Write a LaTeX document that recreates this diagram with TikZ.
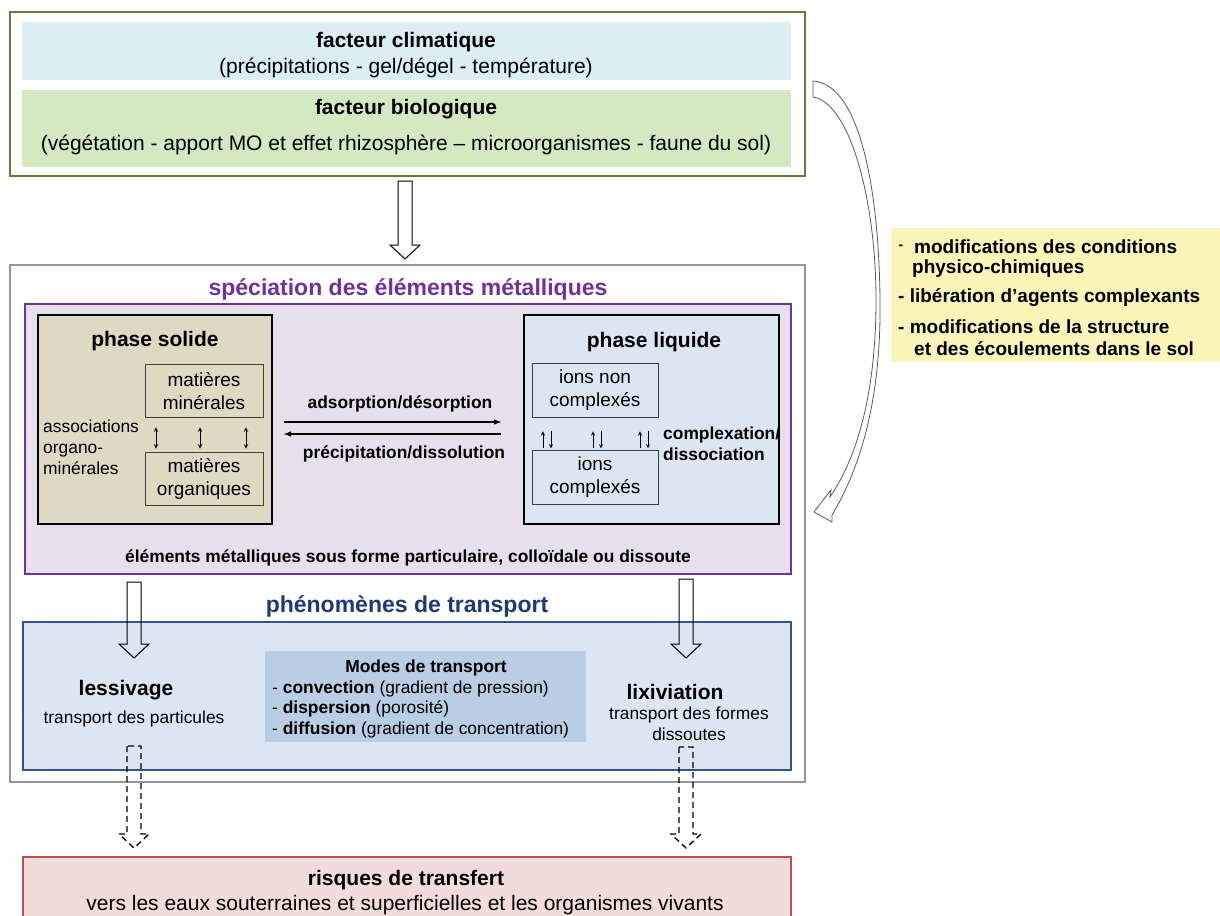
\documentclass[tikz,border=0pt]{standalone}
\usepackage{fontspec}
\setmainfont{Liberation Sans}
\usetikzlibrary{calc,arrows,positioning}
\definecolor{topgreen}{RGB}{98,126,58}
\definecolor{climblue}{RGB}{219,238,243}
\definecolor{biogreen}{RGB}{210,233,193}
\definecolor{boxgray}{RGB}{150,150,150}
\definecolor{specpurple}{RGB}{112,48,160}
\definecolor{specfill}{RGB}{229,224,236}
\definecolor{solidfill}{RGB}{221,217,195}
\definecolor{liqfill}{RGB}{220,230,242}
\definecolor{transblue}{RGB}{31,56,120}
\definecolor{transborder}{RGB}{46,84,138}
\definecolor{modesfill}{RGB}{185,205,229}
\definecolor{riskfill}{RGB}{242,220,219}
\definecolor{riskred}{RGB}{185,80,75}
\definecolor{yellowfill}{RGB}{250,246,185}
\definecolor{curvegray}{RGB}{90,90,90}
\newcommand{\fatarrow}[3][]{%
  \draw[#1] ($(#2)+(-7,0)$) -- ($(#3)+(-7,-14)$) -- ($(#3)+(-15,-14)$) -- (#3)
    -- ($(#3)+(15,-14)$) -- ($(#3)+(7,-14)$) -- ($(#2)+(7,0)$) -- cycle;}

\begin{document}
\begin{tikzpicture}[x=1pt,y=-1pt,
  txtL/.style={font=\fontsize{21}{25}\selectfont, inner sep=0pt, yshift=-2.5pt},
  txtLb/.style={font=\fontsize{21}{25}\selectfont\bfseries, inner sep=0pt, yshift=-2.5pt},
  txtXb/.style={font=\fontsize{23}{27}\selectfont\bfseries, inner sep=0pt, yshift=-2pt},
  txtMb/.style={font=\fontsize{19}{23}\selectfont\bfseries, inner sep=0pt, yshift=-1.5pt},
  txtS/.style={font=\fontsize{17.4}{21}\selectfont, inner sep=0pt, yshift=-1.5pt},
  txtSb/.style={font=\fontsize{17.4}{21}\selectfont\bfseries, inner sep=0pt, yshift=-2pt},
  inbox/.style={draw=black!75, line width=0.8pt, font=\fontsize{19}{23}\selectfont, align=center},
  phasebox/.style={draw=black, line width=1.5pt, inner sep=0pt},
  fatarr/.style={draw=black, line width=1pt},
  dasharr/.style={draw=black, line width=1.3pt, dash pattern=on 6pt off 4pt}]
\useasboundingbox (0,0) rectangle (1220,915);

\draw[draw=topgreen, line width=1.6pt] (10,12) rectangle (805,176);
\fill[climblue] (22,22) rectangle (791,80);
\fill[biogreen] (22,90) rectangle (791,167);
\node[txtLb] (clim) at (406,40) {facteur climatique};
\node[txtL] (climsub) at (406,65) {(précipitations - gel/dégel - température)};
\node[txtLb] (bio) at (406,107) {facteur biologique};
\node[txtL] (biosub) at (406,142) {(végétation - apport MO et effet rhizosphère – microorganismes - faune du sol)};

\coordinate (ar1s) at (405,181);
\coordinate (ar1e) at (405,259);
\fatarrow[fatarr]{ar1s}{ar1e}

\draw[draw=curvegray, fill=white, line width=0.8pt] (813,97)
  .. controls (850,103) and (876,200) .. (876,300)
  .. controls (876,380) and (862,450) .. (830,497) -- (831,490) -- (814,512)
  -- (832,522) -- (832,515)
  .. controls (868,455) and (881,380) .. (880,300)
  .. controls (879,190) and (860,84) .. (813,81) -- cycle;

\fill[yellowfill] (891,228) rectangle (1222,362);
\node[font=\fontsize{14}{16}\selectfont\bfseries] (y0) at (901,247) {-};
\node[txtMb, anchor=west] (y1) at (914,245) {modifications des conditions};
\node[txtMb, anchor=west] (y2) at (912,267) {physico-chimiques};
\node[txtMb, anchor=west] (y3) at (898,296) {- libération d’agents complexants};
\node[txtMb, anchor=west] (y4) at (898,325) {- modifications de la structure};
\node[txtMb, anchor=west] (y5) at (914,347) {et des écoulements dans le sol};

\draw[draw=boxgray, line width=1.6pt] (10,265) rectangle (805,782);
\node[txtXb, text=specpurple] (spec) at (408,287) {spéciation des éléments métalliques};
\draw[draw=specpurple, fill=specfill, line width=2.2pt] (25,304) rectangle (791,574);

\node[phasebox, fill=solidfill, minimum width=234pt, minimum height=209pt] (solidbox) at (155,419.5) {};
\node[txtLb] (solid) at (155,339) {phase solide};
\node[inbox, minimum width=118pt, minimum height=53pt] (miner) at (204,391) {matières\\minérales};
\node[inbox, minimum width=118pt, minimum height=53pt] (organ) at (204,479) {matières\\organiques};
\node[txtS, align=left, anchor=west] (assoc) at (43,446) {associations\\organo-\\minérales};
\foreach \dx in {-48,-4,42}
  \draw[<->, >=stealth, line width=1pt] ($(miner.south)+(\dx,9.5)$) -- ($(organ.north)+(\dx,-3.5)$);

\node[phasebox, fill=liqfill, minimum width=255pt, minimum height=209pt] (liqbox) at (651.5,419.5) {};
\node[txtLb] (liq) at (654,340) {phase liquide};
\node[inbox, minimum width=126pt, minimum height=54pt] (ionsnc) at (595,390) {ions non\\complexés};
\node[inbox, minimum width=126pt, minimum height=54pt] (ionsc) at (595,477.5) {ions\\complexés};
\foreach \dx in {-48,2,49} {
  \draw[->, >=stealth, line width=0.9pt] ($(ionsnc.south)+(\dx-4,31)$) -- ($(ionsnc.south)+(\dx-4,14)$);
  \draw[->, >=stealth, line width=0.9pt] ($(ionsnc.south)+(\dx+4,14)$) -- ($(ionsnc.south)+(\dx+4,31)$);
}
\node[txtSb, align=left, anchor=west] (cplx) at (663,442) {complexation/\\dissociation};

\draw[-latex, line width=1.5pt] ($(solidbox.east)+(11,2.5)$) -- ($(liqbox.west)+(-22,2.5)$);
\draw[-latex, line width=1.5pt] ($(liqbox.west)+(-22,14.5)$) -- ($(solidbox.east)+(11,14.5)$);
\node[txtSb] (adsorp) at (400,402) {adsorption/désorption};
\node[txtSb] (precip) at (404,452) {précipitation/dissolution};
\node[txtSb] (elem) at (408,556) {éléments métalliques sous forme particulaire, colloïdale ou dissoute};

\node[txtXb, text=transblue] (phen) at (407,604) {phénomènes de transport};
\draw[draw=transborder, fill=liqfill, line width=2pt] (23,622) rectangle (791,770);
\coordinate (ar2s) at (134,582);
\coordinate (ar2e) at (134,658);
\coordinate (ar3s) at (686,579);
\coordinate (ar3e) at (686,658);
\fatarrow[fatarr]{ar2s}{ar2e}
\fatarrow[fatarr]{ar3s}{ar3e}

\node[txtLb] (less) at (126,688) {lessivage};
\node[txtS] (lesssub) at (134,717) {transport des particules};
\fill[modesfill] (265,651) rectangle (586,742);
\node[txtSb] (modes) at (426,666) {Modes de transport};
\node[txtS, anchor=west] (conv) at (272,687) {- \textbf{convection} (gradient de pression)};
\node[txtS, anchor=west] (disp) at (272,707) {- \textbf{dispersion} (porosité)};
\node[txtS, anchor=west] (diff) at (272,728) {- \textbf{diffusion} (gradient de concentration)};
\node[txtLb] (lixi) at (675,689) {lixiviation};
\node[txtS, align=center] (lixisub) at (689,722) {transport des formes\\dissoutes};

\coordinate (ar4s) at (134,746);
\coordinate (ar4e) at (134,848);
\coordinate (ar5s) at (686,747);
\coordinate (ar5e) at (686,848);
\fatarrow[dasharr]{ar4s}{ar4e}
\fatarrow[dasharr]{ar5s}{ar5e}

\draw[draw=riskred, fill=riskfill, line width=1.6pt] (23,857) rectangle (791,930);
\node[txtLb] (risk) at (406,878) {risques de transfert};
\node[txtL] (risksub) at (405,903) {vers les eaux souterraines et superficielles et les organismes vivants};
\end{tikzpicture}
\end{document}
